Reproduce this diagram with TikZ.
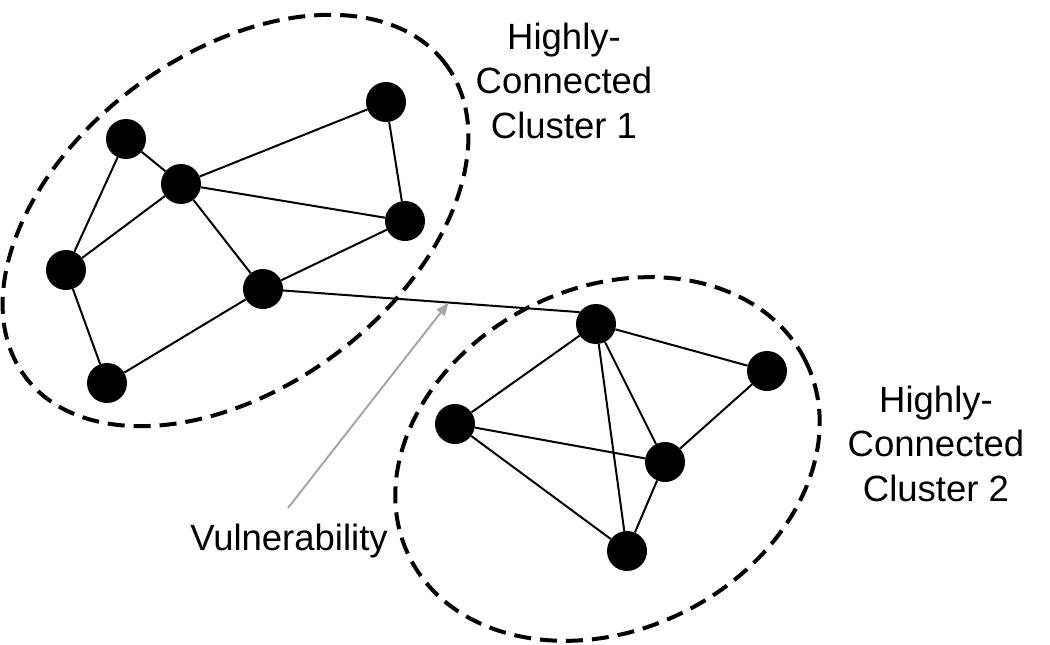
\documentclass[tikz,border=0pt]{standalone}
\usepackage{fontspec}
\setmainfont{Liberation Sans}
\usetikzlibrary{arrows.meta,calc}
\definecolor{arrowgray}{HTML}{A6A6A6}
\tikzset{
  dot/.style={circle,fill=black,minimum size=40pt,inner sep=0pt},
  edgeline/.style={line width=2pt,black},
  clusterline/.style={line width=4pt,dash pattern=on 17pt off 9pt},
  captiontext/.style={font=\fontsize{36.5}{44.5}\selectfont,align=center,inner sep=0pt},
  pointer/.style={line width=2pt,color=arrowgray,-{Triangle[length=13pt,width=10pt]}}
}
\begin{document}
\begin{tikzpicture}[x=1pt,y=1pt]
\path[use as bounding box] (0,0) rectangle (1050,-645);
% clusters
\draw[clusterline,rotate around={36.5:(235.5,-220.5)}] (235.5,-220.5) ellipse [x radius=262pt, y radius=167pt];
\draw[clusterline,rotate around={26.2:(607.5,-459)}] (607.5,-459) ellipse [x radius=221pt, y radius=171pt];
% nodes cluster 1
\node[dot] (a) at (126,-139) {};
\node[dot] (b) at (181,-184) {};
\node[dot] (c) at (386,-102) {};
\node[dot] (d) at (405,-221) {};
\node[dot] (e) at (66,-270) {};
\node[dot] (f) at (263,-289) {};
\node[dot] (g) at (107,-383) {};
% nodes cluster 2
\node[dot] (h) at (596,-324) {};
\node[dot] (i) at (767,-371) {};
\node[dot] (j) at (455,-424) {};
\node[dot] (k) at (665,-462) {};
\node[dot] (l) at (627,-551) {};
% edges
\draw[edgeline] (a) -- (b) (a) -- (e) (b) -- (e) (b) -- (c) (b) -- (d) (b) -- (f)
  (c) -- (d) (d) -- (f) (e) -- (g) (g) -- (f);
\draw[edgeline] (h) -- (j) (h) -- (k) (h) -- (l) (h) -- (i) (i) -- (k)
  (j) -- (k) (j) -- (l) (k) -- (l);
\draw[edgeline] (f) -- (h.144);
% labels
\node[captiontext,anchor=north] (t1) at (564,-22.7) {Highly-\\Connected\\Cluster 1};
\node[captiontext,anchor=north] (t2) at (936,-385.7) {Highly-\\Connected\\Cluster 2};
\node[captiontext,anchor=base] (vul) at (289,-550) {Vulnerability};
\coordinate (vt) at ($(f)!0.586!(h.144)$);
\coordinate (vs) at (288,-508);
\draw[pointer] (vs) -- (vt);
\end{tikzpicture}
\end{document}
